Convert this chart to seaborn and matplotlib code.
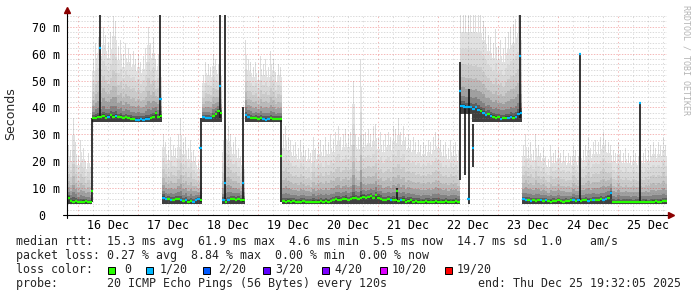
import numpy as np
import pandas as pd
import matplotlib
matplotlib.use("Agg")
import matplotlib.pyplot as plt
import seaborn as sns
from matplotlib.patches import Rectangle

# ---------------- data (hourly bins, hour 0 = 15 Dec 19:32) ----------------
median_ms = [
    6.5, 5.2, 5.0, 5.3, 5.0, 4.8, 5.0, 5.2, 4.8, 5.0,                      # h0-9
    36.0, 36.2, 36.5, 36.3, 36.8, 36.2, 36.5, 37.0, 36.5, 36.8,            # h10-19
    36.3, 36.5, 36.0, 36.3, 36.0, 35.8, 35.6, 35.5, 35.5, 35.6,            # h20-29
    35.5, 35.8, 35.6, 36.0, 36.5, 37.8, 36.5, 36.8,                        # h30-37
    6.5, 5.8, 6.0, 5.5, 5.6, 6.0, 5.8, 5.5, 5.2, 5.4, 5.0, 5.3, 5.0, 5.5, 5.8,  # h38-52
    5.5,                                                                   # h53
    36.5, 36.0, 36.2, 36.0, 36.8, 37.5, 38.5,                              # h54-60
    38.0,                                                                  # h61
    5.5, 5.0, 5.5, 5.8, 6.0, 5.5, 6.0, 5.5,                                # h62-69
    5.5,                                                                   # h70
    37.0, 36.5, 36.2, 36.0, 36.0, 35.8, 36.0, 35.8, 35.5, 35.8,            # h71-80
    36.0, 35.8, 35.8, 35.8, 35.8,                                          # h81-85
    5.2, 5.0, 5.3, 5.0, 5.2, 5.0, 4.9, 5.0, 5.1, 5.0,                      # h86-95
    4.8, 5.0, 5.0, 4.9, 5.0, 5.2, 5.0, 5.3, 5.0, 5.2,                      # h96-105
    5.5, 5.8, 5.6, 5.4, 5.9, 6.0, 5.6, 5.8, 6.2, 6.4,                      # h106-115
    6.0, 6.5, 6.8, 6.2, 6.6, 7.0, 6.2, 7.4, 6.5, 6.0,                      # h116-125
    5.6, 5.5, 5.8, 5.4, 5.6, 5.5, 5.2, 5.4, 5.6, 5.0,                      # h126-135
    5.3, 5.5, 5.0, 5.2, 5.0, 4.9, 5.0, 5.2, 5.0, 4.8,                      # h136-145
    5.0, 5.1, 5.0, 4.9, 5.0, 5.2, 5.0, 4.9, 5.0, 5.1, 5.0,                 # h146-156
    40.5, 40.5, 40.0, 40.0, 40.0,                                          # h157-161
    39.5, 40.0, 39.0, 38.5, 38.0, 37.0, 37.5, 36.8, 36.5, 36.0,            # h162-171
    36.3, 35.8, 36.0, 36.2, 36.0, 36.5, 36.0, 36.5, 37.5, 38.0,            # h172-181
    5.8, 5.5, 5.6, 5.3, 5.5, 5.2, 5.4, 5.6, 5.3, 5.5,                      # h182-191
    5.2, 5.0, 5.3, 5.1, 5.4, 5.2, 5.0, 5.3, 5.1, 5.4,                      # h192-201
    5.6, 5.3, 5.5, 5.2, 5.4, 5.6, 5.3, 5.5, 5.7, 5.4,                      # h202-211
    5.6, 5.8, 5.5, 6.0, 6.5, 8.0, 5.0, 4.8, 4.9, 4.8,                      # h212-221
    5.0, 4.8, 4.9, 5.0, 4.8, 4.9, 5.0, 4.8, 4.9, 5.0,                      # h222-231
    4.8, 4.9, 5.0, 5.1, 4.9, 5.0, 5.1, 5.2,                                # h232-239
]

smoke_top_ms = [
    26, 24, 36, 27, 22, 28, 25, 20, 23, 18,                                # h0-9
    58, 64, 66, 65, 70, 67, 64, 68, 74, 72,                                # h10-19
    63, 65, 60, 64, 62, 60, 61, 58, 60, 57,                                # h20-29
    59, 62, 70, 64, 66, 58, 60, 55,                                        # h30-37
    30, 27, 24, 29, 26, 25, 30, 36, 27, 29, 25, 28, 24, 22, 20,            # h38-52
    22,                                                                    # h53
    52, 57, 56, 55, 60, 58, 56,                                            # h54-60
    55,                                                                    # h61
    28, 34, 33, 30, 27, 29, 25, 22,                                        # h62-69
    20,                                                                    # h70
    65, 58, 57, 55, 57, 54, 59, 56, 58, 55,                                # h71-80
    61, 58, 53, 56, 55,                                                    # h81-85
    30, 33, 29, 28, 26, 27, 25, 28, 26, 24,                                # h86-95
    25, 23, 29, 25, 27, 28, 26, 29, 27, 30,                                # h96-105
    28, 31, 33, 29, 30, 32, 30, 31, 50, 30,                                # h106-115
    29, 58, 30, 31, 32, 30, 33, 34, 29, 31,                                # h116-125
    28, 30, 31, 29, 33, 32, 36, 31, 33, 29,                                # h126-135
    30, 28, 29, 27, 28, 26, 27, 26, 28, 27,                                # h136-145
    29, 31, 30, 28, 26, 27, 25, 28, 26, 27, 24,                            # h146-156
    75, 75, 75, 75, 75,                                                    # h157-161
    75, 75, 75, 75, 72, 70, 67, 66, 64, 69,                                # h162-171
    63, 65, 62, 66, 68, 70, 71, 73, 75, 72,                                # h172-181
    26, 30, 25, 27, 24, 30, 26, 23, 25, 22,                                # h182-191
    21, 26, 23, 24, 25, 23, 24, 22, 23, 22,                                # h192-201
    26, 24, 22, 25, 24, 26, 29, 25, 27, 28,                                # h202-211
    27, 29, 31, 28, 27, 26, 24, 23, 27, 24,                                # h212-221
    23, 25, 23, 22, 24, 23, 22, 24, 23, 25,                                # h222-231
    24, 26, 27, 25, 27, 26, 29, 26,                                        # h232-239
]

# smoke floor per regime (start hour, floor in ms)
regime_start_hour = [0, 10, 38, 54, 62, 71, 86, 157, 162, 182]
regime_floor_ms = [4.2, 34.4, 4.2, 34.4, 4.2, 34.4, 4.2, 37.5, 34.4, 4.2]

# hours whose median had 1/20 packet loss (others: 0 loss)
loss_1_hours = [16, 19, 27, 28, 29, 30, 31, 32, 38, 39, 41, 45, 47, 50, 51, 52,
                54, 55, 56, 57, 62, 64, 71, 72, 78, 79, 80, 129, 133, 157, 158,
                159, 160, 161, 162, 163, 164, 166, 167, 169, 173, 176, 177, 179,
                180, 181, 182, 183, 185, 189, 191, 202, 204, 208, 210, 214, 215, 217]

# short dark smoke columns (level changes / spikes)
spike_hour = [9.9, 13.2, 37.3, 53.4, 61.2, 63.1, 70.3, 85.5, 132.0, 157.2,
              159.0, 160.6, 162.3, 181.1, 205.2, 229.2]
spike_low_ms = [5, 36, 36, 5, 36, 6, 5, 5, 5, 13, 15, 4, 18, 36, 5, 5]
spike_high_ms = [36, 75, 75, 36, 75, 75, 40, 36, 10, 57, 41, 47, 34, 75, 60, 41.5]
spike_median_ms = [9, 62, 43, 25, 48, 12, 12, 22, 9, 46, 40, 6, 25, 59, 60, 41.5]
spike_loss = [0, 1, 1, 1, 1, 1, 1, 0, 0, 1, 1, 1, 1, 1, 1, 1]

day_labels = ["16 Dec", "17 Dec", "18 Dec", "19 Dec", "20 Dec",
              "21 Dec", "22 Dec", "23 Dec", "24 Dec", "25 Dec"]
first_midnight_hour = 4.4667
y_ticks = [0, 10, 20, 30, 40, 50, 60, 70]
y_tick_labels = ["0  ", "10 m", "20 m", "30 m", "40 m", "50 m", "60 m", "70 m"]

loss_labels = ["0", "1/20", "2/20", "3/20", "4/20", "10/20", "19/20"]
loss_colors = ["#26ff00", "#00b8ff", "#0059ff", "#5e00ff", "#7e00ff", "#dd00ff", "#ff0000"]

line_rtt = "median rtt:  15.3 ms avg  61.9 ms max  4.6 ms min  5.5 ms now  14.7 ms sd  1.0    am/s"
line_loss = "packet loss: 0.27 % avg  8.84 % max  0.00 % min  0.00 % now"
line_probe = "probe:       20 ICMP Echo Pings (56 Bytes) every 120s"
line_end = "end: Thu Dec 25 19:32:05 2025"

# ---------------- figure ----------------
sns.set_theme(style="white")
plt.rcParams['font.family'] = ['DejaVu Sans Mono']

W, H = 697, 297
fig = plt.figure(figsize=(W / 100, H / 100), dpi=100)
fig.patch.set_facecolor("white")
ax = fig.add_axes([67 / W, 1 - 215 / H, 600 / W, 200 / H])
ax.set_facecolor("white")

n = len(median_ms)
med = np.array(median_ms, float)
top = np.array(smoke_top_ms, float)
lengths = np.diff(regime_start_hour + [n])
floor = np.repeat(regime_floor_ms, lengths)
centers = np.arange(n) + 0.5

# smoke: outer layers as thin streaks, inner layers as full-width columns
layers = [(1.00, "#dcdcdc", 0.55), (0.80, "#e2e2e2", 1.0), (0.62, "#d8d8d8", 1.0),
          (0.45, "#cbcbcb", 1.0), (0.31, "#bababa", 1.0), (0.20, "#a0a0a0", 1.0),
          (0.11, "#828282", 1.0), (0.05, "#5e5e5e", 1.0), (0.02, "#404040", 1.0)]
for f, c, w in layers:
    upper = med + f * (top - med)
    ax.bar(centers, upper - floor, bottom=floor, width=w, color=c, lw=0,
           align="center", zorder=1)

# grid
midnights = first_midnight_hour + 24 * np.arange(10)
six_h = first_midnight_hour + 6 * np.arange(40)
minor_c = (0.5, 0.5, 0.5, 0.28)
major_c = (0.88, 0.15, 0.15, 0.32)
for x in six_h:
    if np.min(np.abs(midnights - x)) > 0.1:
        ax.axvline(x, color=minor_c, lw=0.72, ls=(0, (1.4, 2.8)), zorder=2)
for x in midnights:
    ax.axvline(x, color=major_c, lw=0.72, ls=(0, (1.4, 2.8)), zorder=2)
for y in range(2, 75, 2):
    if y % 10:
        ax.axhline(y, color=minor_c, lw=0.72, ls=(0, (1.4, 1.4)), zorder=2)
    else:
        ax.axhline(y, color=major_c, lw=0.72, ls=(0, (1.4, 1.4)), zorder=2)

# spikes (dark columns)
ax.vlines(spike_hour, spike_low_ms, spike_high_ms, color="#151515", lw=1.2, zorder=3)

# median marks coloured by loss
loss_arr = np.zeros(n, int)
loss_arr[loss_1_hours] = 1
rows = []
for i in range(n):
    rows.append((i, i, med[i], loss_arr[i]))
    rows.append((i, i + 1, med[i], loss_arr[i]))
for k, (h, m, l) in enumerate(zip(spike_hour, spike_median_ms, spike_loss)):
    rows.append((1000 + k, h - 0.5, m, l))
    rows.append((1000 + k, h + 0.5, m, l))
df = pd.DataFrame(rows, columns=["unit", "hour", "rtt", "loss"])
pal = {0: loss_colors[0], 1: loss_colors[1]}
sns.lineplot(data=df, x="hour", y="rtt", hue="loss", units="unit", estimator=None,
             palette=pal, lw=1.6, legend=False, ax=ax, zorder=5, solid_capstyle="butt")

ax.set_xlim(0, n)
ax.set_ylim(0, 74.35)
ax.set_xlabel("")
ax.set_ylabel("")
for s in ax.spines.values():
    s.set_visible(False)

ax.set_xticks(midnights + 12)
ax.set_xticklabels(day_labels)
ax.set_xticks(midnights, minor=True)
ax.tick_params(axis="x", which="major", length=0, pad=3, labelsize=8.4, colors="black")
ax.tick_params(axis="x", which="minor", length=2, width=0.7, color="black", direction="out")
ax.set_yticks(y_ticks)
ax.set_yticklabels(y_tick_labels)
ax.tick_params(axis="y", length=3, width=0.7, pad=2, labelsize=8.4, colors="black")

# axis lines with arrows
ax.plot([0, 0], [-3 / 200, 1 + 3 / 200], transform=ax.transAxes, color="black",
        lw=0.8, clip_on=False, zorder=6)
ax.plot([-4 / 600, 1 + 2 / 600], [0, 0], transform=ax.transAxes, color="black",
        lw=0.8, clip_on=False, zorder=6)
ax.plot([0], [1 + 5 / 200], marker="^", ms=4.5, color="#8b0000", transform=ax.transAxes,
        clip_on=False, zorder=7)
ax.plot([1 + 4 / 600], [0], marker=">", ms=4.5, color="#8b0000", transform=ax.transAxes,
        clip_on=False, zorder=7)

# y label and side text
fig.text(11 / W, 1 - 113.5 / H, "Seconds", rotation=90, ha="center", va="center",
         fontsize=9, family="DejaVu Sans")
fig.text(686 / W, 1 - 5 / H, "RRDTOOL / TOBI OETIKER", rotation=270, ha="center", va="top",
         fontsize=6, color="#b4b4b4")

# legend text block
fs = 8.4
def px(x, y):
    return x / W, 1 - y / H

fig.text(*px(16, 245), line_rtt, fontsize=fs, va="baseline", ha="left")
fig.text(*px(16, 259), line_loss, fontsize=fs, va="baseline", ha="left")
fig.text(*px(16, 273), "loss color:", fontsize=fs, va="baseline", ha="left")
fig.text(*px(16, 287), line_probe, fontsize=fs, va="baseline", ha="left")
fig.text(*px(478, 287), line_end, fontsize=fs, va="baseline", ha="left")

box_x = [108, 146, 203, 263, 322, 380, 445]
label_x = [124, 160, 218, 275, 334, 392, 457]
for bx, lx, lab, col in zip(box_x, label_x, loss_labels, loss_colors):
    r = Rectangle((bx / W, 1 - 273.5 / H), 7 / W, 7 / H, transform=fig.transFigure,
                  facecolor=col, edgecolor="black", lw=0.7)
    fig.patches.append(r)
    fig.text(*px(lx, 273), lab, fontsize=fs, va="baseline", ha="left")

fig.savefig("out.png", dpi=100, facecolor="white")
